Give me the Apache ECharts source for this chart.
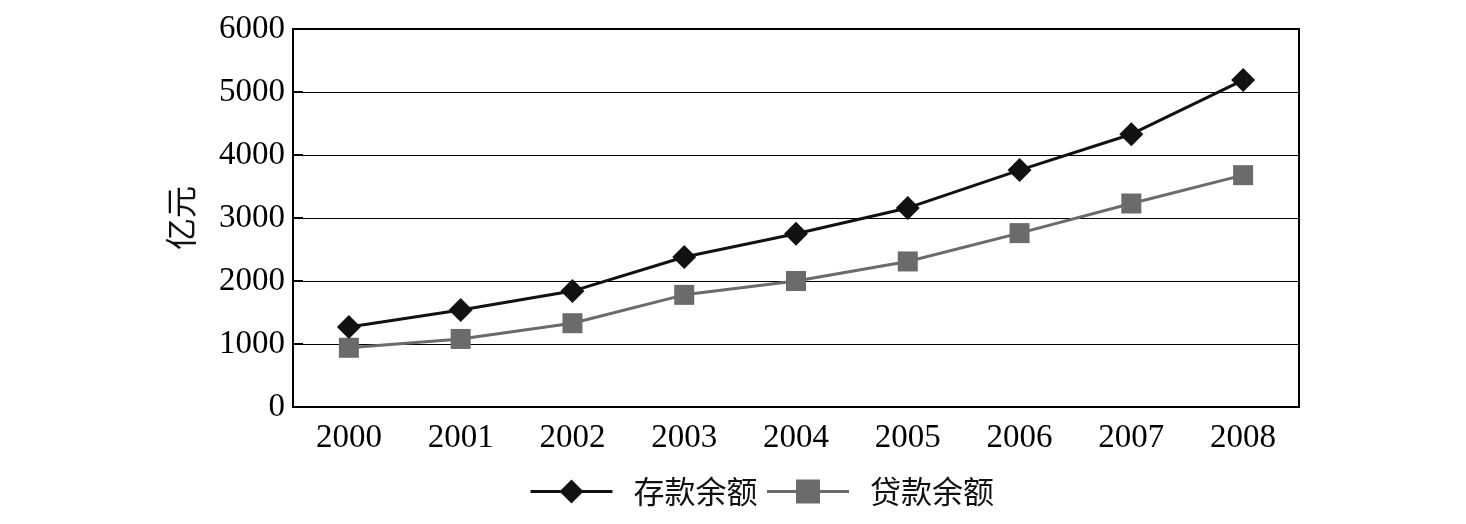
<!DOCTYPE html>
<html><head><meta charset="utf-8">
<script src="https://cdn.jsdelivr.net/npm/echarts@6/dist/echarts.min.js"></script>
<style>html,body{margin:0;padding:0;background:#fff}#c{width:1466px;height:524px}</style>
</head><body><div id="c"></div>
<script>
const years = ['2000','2001','2002','2003','2004','2005','2006','2007','2008'];
const deposit = [1270, 1540, 1840, 2380, 2750, 3160, 3760, 4330, 5190];
const loan = [940, 1080, 1330, 1780, 2000, 2310, 2760, 3230, 3680];
const yTicks = [0, 1000, 2000, 3000, 4000, 5000, 6000];
const serif = '"Liberation Serif", "Times New Roman", serif';
const cjk = '"Noto Sans CJK SC", sans-serif';
const chart = echarts.init(document.getElementById('c'));
chart.setOption({
  animation: false,
  grid: {left: 293, right: 167, top: 29, bottom: 117, show: true, borderColor: '#000', borderWidth: 2, backgroundColor: 'transparent'},
  legend: {
    bottom: 12, left: 524, itemWidth: 82, itemHeight: 30, itemGap: 8,
    textStyle: {fontFamily: cjk, fontSize: 31, color: '#111', padding: [0, 0, 0, 16]},
    data: [
      {name: '存款余额', lineStyle: {width: 3}},
      {name: '贷款余额', lineStyle: {width: 3}}
    ]
  },
  xAxis: {
    type: 'category', data: years, boundaryGap: true,
    axisLine: {lineStyle: {color: '#000', width: 2}},
    axisTick: {inside: true, length: 10, lineStyle: {color: '#000', width: 2}},
    axisLabel: {fontFamily: serif, fontSize: 33, color: '#000', margin: 15}
  },
  yAxis: {
    type: 'value', min: yTicks[0], max: yTicks[yTicks.length - 1], interval: 1000,
    name: '亿元', nameLocation: 'middle', nameGap: 96, nameRotate: 90,
    nameTextStyle: {fontFamily: cjk, fontSize: 32, color: '#111'},
    axisLine: {show: true, lineStyle: {color: '#000', width: 2}},
    axisTick: {show: true, inside: true, length: 10, lineStyle: {color: '#000', width: 2}},
    splitLine: {lineStyle: {color: '#000', width: 1}},
    axisLabel: {fontFamily: serif, fontSize: 33, color: '#000', margin: 8, formatter: v => String(v)}
  },
  series: [
    {name: '存款余额', type: 'line', data: deposit, symbol: 'diamond', symbolSize: 24,
     lineStyle: {color: '#111', width: 3}, itemStyle: {color: '#111'}, z: 3},
    {name: '贷款余额', type: 'line', data: loan, symbol: 'rect', symbolSize: 20,
     lineStyle: {color: '#6b6b6b', width: 3}, itemStyle: {color: '#6b6b6b'}, z: 2}
  ]
});
</script></body></html>
